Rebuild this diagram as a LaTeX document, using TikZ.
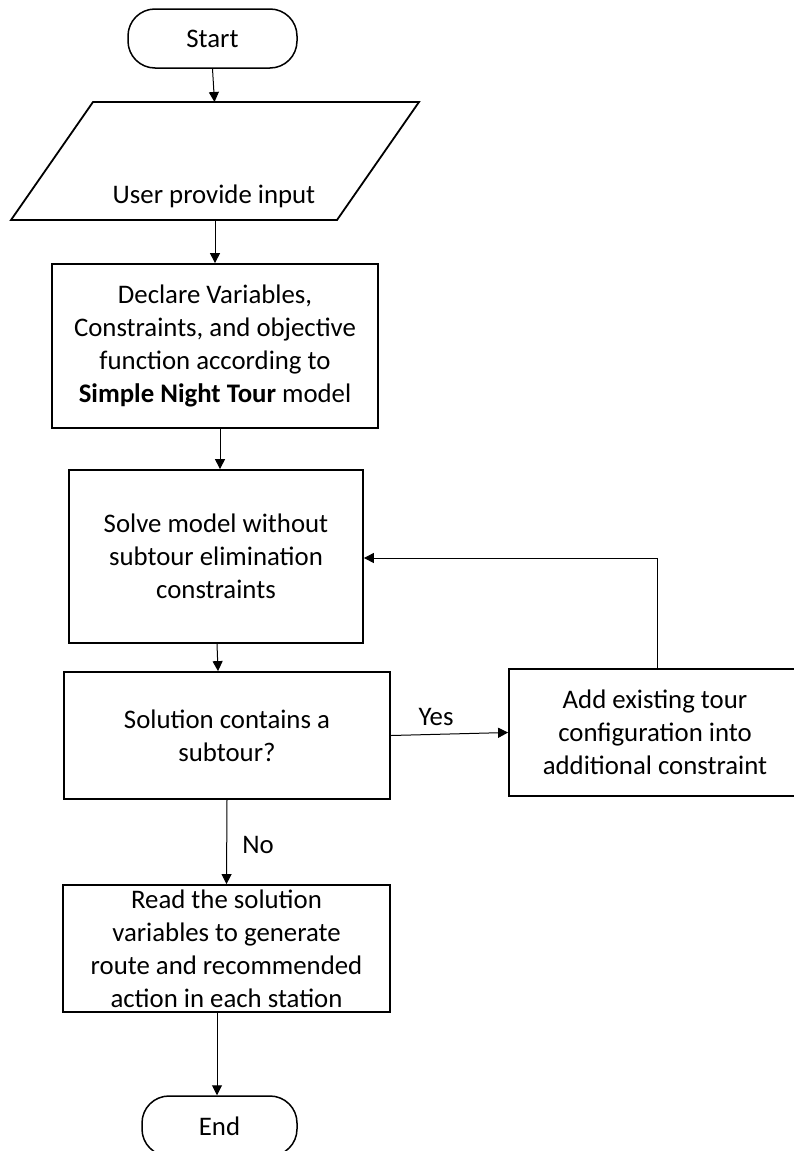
\documentclass[tikz,border=0pt]{standalone}
\usepackage{fontspec}
\setmainfont{Carlito}
\usetikzlibrary{arrows.meta}
\begin{document}
\begin{tikzpicture}[x=1pt,y=-1pt,
  font=\fontsize{26.8}{33}\selectfont,
  procbox/.style={draw,line width=1.8pt,rectangle,align=center,inner sep=0pt},
  termbox/.style={draw,line width=1.5pt,rectangle,rounded corners=27pt,inner sep=0pt},
  flow/.style={line width=1pt,-{Triangle[length=10pt,width=10pt]}},
  lbl/.style={inner sep=0pt}]
\useasboundingbox (0,0) rectangle (794,1151);

% terminals and process steps
\node[termbox,minimum width=169pt,minimum height=59pt] (start) at (212.5,38.5) {Start};

% input parallelogram
\draw[line width=1.8pt,line join=miter] (93,102) -- (419,102) -- (337,220) -- (11,220) -- cycle;
\coordinate (inTop) at (214.5,102);
\coordinate (inBot) at (215,220);
\node[lbl] (input) at (214,196) {User provide input};

\node[procbox,minimum width=326pt,minimum height=164pt] (declare) at (215,346)
  {Declare Variables,\\Constraints, and objective\\function according to\\\textbf{Simple Night Tour} model};

\node[procbox,minimum width=294pt,minimum height=173pt] (solve) at (216,556.5)
  {Solve model without\\subtour elimination\\constraints};

\node[procbox,minimum width=326pt,minimum height=127pt] (solution) at (227,735.5)
  {Solution contains a\\subtour?};

\node[procbox,minimum width=292pt,minimum height=127pt] (add) at (655,732.5)
  {Add existing tour\\configuration into\\additional constraint};

\node[procbox,minimum width=327pt,minimum height=127pt] (read) at (226.5,948.5)
  {Read the solution\\variables to generate\\route and recommended\\action in each station};

\node[termbox,minimum width=155pt,minimum height=60pt] (end) at (219.5,1126) {End};

% connectors
\draw[flow] (start.south) -- (inTop);
\draw[flow] (inBot) -- (inBot |- declare.north);
\draw[flow] ([xshift=5pt]declare.south) -- ([xshift=4pt]solve.north);
\draw[flow] ([xshift=1pt]solve.south) -- ([xshift=-9pt]solution.north);
\draw[flow] (solution.east) -- (add.west);
\node[lbl] (yes) at (436,717) {Yes};
\draw[flow] ([xshift=2pt]add.north) |- ([yshift=-1.5pt]solve.east);
\draw[flow] (solution.south) -- (read.north);
\node[lbl] (no) at (258,845) {No};
\draw[flow] ([xshift=-9.5pt]read.south) -- ([xshift=-2.5pt]end.north);
\end{tikzpicture}
\end{document}
